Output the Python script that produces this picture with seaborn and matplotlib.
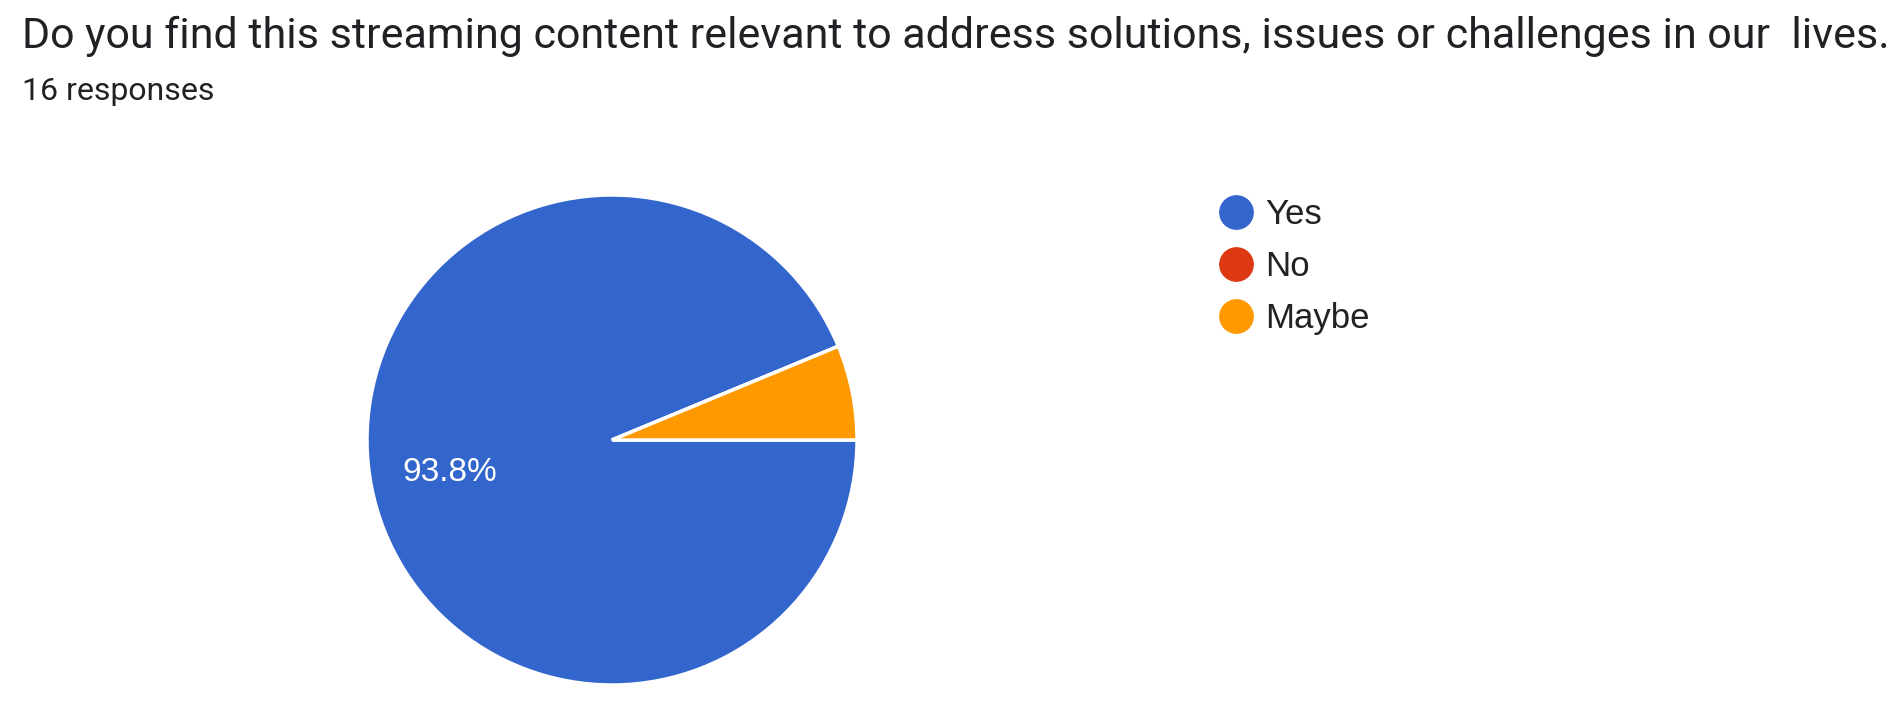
import matplotlib
matplotlib.use("Agg")
import matplotlib.pyplot as plt
from matplotlib.lines import Line2D
import seaborn as sns

title = "Do you find this streaming content relevant to address solutions, issues or challenges in our  lives."
subtitle = "16 responses"
categories = ["Yes", "No", "Maybe"]
counts = [15, 0, 1]
colors = ["#3366cc", "#dc3912", "#ff9900"]

sns.set_theme(style="white")
plt.rcParams["font.family"] = ["Roboto", "DejaVu Sans"]

W, H = 1900, 705
fig = plt.figure(figsize=(W / 100, H / 100), dpi=100)
fig.patch.set_facecolor("white")

cx, cy, r = 612, 440, 245
ax = fig.add_axes([(cx - r) / W, (H - cy - r) / H, 2 * r / W, 2 * r / H])

def fmt(p):
    return f"{p:.1f}%" if p >= 10 else ""

wedges, texts, autotexts = ax.pie(
    counts, colors=colors, startangle=0, counterclock=False,
    autopct=fmt, pctdistance=0.675,
    wedgeprops=dict(edgecolor="white", linewidth=2.5),
    textprops=dict(color="white", fontsize=24, family="Liberation Sans"),
)
ax.set_xlim(-1.0, 1.0)
ax.set_ylim(-1.0, 1.0)
ax.set_aspect("equal")
ax.axis("off")

fig.text(22 / W, 1 - 36 / H, title, fontsize=31, color="#202124", va="center", ha="left")
fig.text(22 / W, 1 - 92 / H, subtitle, fontsize=23, color="#202124", va="center", ha="left")

handles = [Line2D([0], [0], marker="o", linestyle="none", markersize=24,
                  markerfacecolor=c, markeredgecolor=c) for c in colors]
leg = fig.legend(handles, categories, loc="upper left",
                 bbox_to_anchor=(1220 / W, 1 - 198 / H), frameon=False,
                 prop=dict(family="Liberation Sans", size=25),
                 handlelength=0.9, handletextpad=0.4, labelspacing=0.55,
                 borderpad=0, borderaxespad=0)
for t in leg.get_texts():
    t.set_color("#222222")

fig.savefig("out.png", dpi=100, facecolor="white")
